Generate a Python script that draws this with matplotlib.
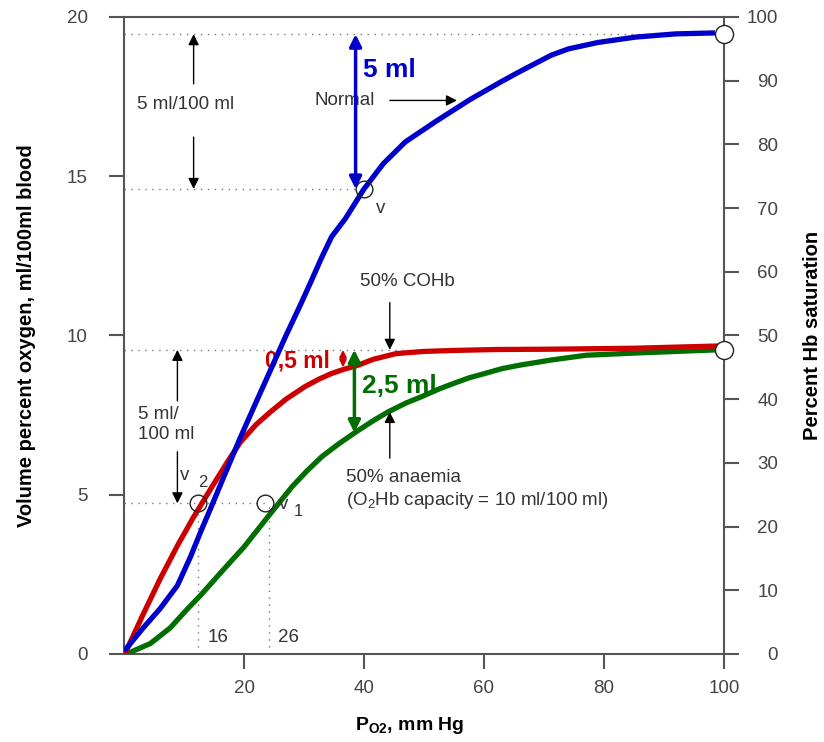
import matplotlib
matplotlib.use("Agg")
import matplotlib.pyplot as plt

plt.rcParams["font.family"] = ["Liberation Sans", "DejaVu Sans"]
plt.rcParams["mathtext.fontset"] = "custom"
plt.rcParams["mathtext.rm"] = "Liberation Sans"
plt.rcParams["mathtext.it"] = "Liberation Sans"
plt.rcParams["mathtext.bf"] = "Liberation Sans:bold"

# data (PO2 in mm Hg, O2 content in ml/100 ml)
normal_x = [0, 0.5, 3.2, 6, 8.9, 11.1, 12.8, 14.5, 16.6, 19.4, 22, 24.5, 27, 29.5, 31.3, 32.9,
            34.6, 36.9, 40, 43.2, 46.9, 52.2, 57.6, 62.7, 65.6, 71.2, 74.1, 79, 85.3, 92, 98.5]
normal_y = [0.1, 0.2, 0.82, 1.42, 2.15, 3.06, 3.85, 4.6, 5.55, 6.8, 7.9, 8.95, 10.0, 11.0, 11.75,
            12.43, 13.1, 13.67, 14.6, 15.39, 16.08, 16.75, 17.4, 17.95, 18.25, 18.8, 19.0, 19.2,
            19.37, 19.47, 19.5]

cohb_x = [0, 3.2, 6, 8.9, 11.6, 14.5, 17.3, 19.4, 22, 24.4, 27, 30.2, 32.5, 34.5, 36.5, 38.9,
          41.5, 45.3, 50, 54.9, 62, 71, 85, 99]
cohb_y = [-0.05, 1.25, 2.35, 3.4, 4.3, 5.2, 6.05, 6.65, 7.2, 7.6, 8.0, 8.4, 8.63, 8.8, 8.93,
          9.06, 9.25, 9.43, 9.5, 9.53, 9.56, 9.57, 9.6, 9.67]

anaemia_x = [0, 1, 4.4, 7.7, 10.6, 12.8, 16.1, 20, 24.2, 28, 30.5, 33, 35.8, 38.8, 41.5, 44,
             47, 49.6, 52.5, 55, 57.5, 60.2, 63, 66, 71.2, 77, 85.3, 92, 98.9]
anaemia_y = [0, 0.05, 0.33, 0.82, 1.42, 1.85, 2.55, 3.36, 4.36, 5.25, 5.75, 6.2, 6.6, 6.99, 7.32,
             7.6, 7.88, 8.08, 8.32, 8.5, 8.67, 8.81, 8.96, 9.07, 9.23, 9.38, 9.45, 9.5, 9.55]

x_ticks = [20, 40, 60, 80, 100]
y_ticks = [0, 5, 10, 15, 20]
sat_ticks = [0, 10, 20, 30, 40, 50, 60, 70, 80, 90, 100]

arterial_full = 19.46
venous_normal = 14.6
arterial_half = 9.55
venous_low = 4.73
v_normal_x = 40
v2_x = 12.4
v1_x = 23.5
drop16_x = 12.3
drop26_x = 24.2

BLUE = "#0000cc"
RED = "#cc0000"
GREEN = "#006e00"
AX = "#555555"
TXT = "#333333"
DOT = (0, (1, 4))

fig = plt.figure(figsize=(8.24, 7.42), dpi=100)
ax = fig.add_axes([0.1505, 0.1186, 0.7281, 0.8585])
ax.set_xlim(0, 100)
ax.set_ylim(0, 20)

# dotted guide lines
ax.plot([0, 100], [arterial_full, arterial_full], color="#777777", lw=1, ls=DOT, zorder=1)
ax.plot([0, v_normal_x], [venous_normal, venous_normal], color="#777777", lw=1, ls=DOT, zorder=1)
ax.plot([0, 100], [arterial_half, arterial_half], color="#777777", lw=1, ls=DOT, zorder=1)
ax.plot([0, v1_x], [venous_low, venous_low], color="#777777", lw=1, ls=DOT, zorder=1)
ax.plot([drop16_x, drop16_x], [0, venous_low], color="#777777", lw=1, ls=DOT, zorder=1)
ax.plot([drop26_x, drop26_x], [0, venous_low], color="#777777", lw=1, ls=DOT, zorder=1)

# curves
ax.plot(anaemia_x, anaemia_y, color=GREEN, lw=3.8, solid_capstyle="butt",
        solid_joinstyle="round", zorder=3)
ax.plot(cohb_x, cohb_y, color=RED, lw=3.8, solid_capstyle="butt",
        solid_joinstyle="round", zorder=3)
ax.plot(normal_x, normal_y, color=BLUE, lw=3.8, solid_capstyle="butt",
        solid_joinstyle="round", zorder=4)

# open circles
ax.plot([v_normal_x, v2_x, v1_x], [venous_normal, venous_low, venous_low], "o", ms=12,
        mfc="none", mec="#222222", mew=1, zorder=5)
ax.plot([100, 100], [arterial_full, arterial_half], "o", ms=13, mfc="white",
        mec="#222222", mew=1, clip_on=False, zorder=6)

fs = 13.5
black_arrow = dict(arrowstyle="-|>", color="black", lw=1, mutation_scale=16, shrinkA=0, shrinkB=0)

# top-left 5 ml/100 ml
ax.text(10.25, 17.26, "5 ml/100 ml", fontsize=fs, color=TXT, ha="center", va="center")
ax.annotate("", xy=(11.6, arterial_full), xytext=(11.6, 17.9), arrowprops=black_arrow)
ax.annotate("", xy=(11.6, venous_normal), xytext=(11.6, 16.23), arrowprops=black_arrow)

# lower-left 5 ml/100 ml
ax.text(2.35, 7.53, "5 ml/", fontsize=fs, color=TXT, ha="left", va="center")
ax.text(2.35, 6.89, "100 ml", fontsize=fs, color=TXT, ha="left", va="center")
ax.annotate("", xy=(8.9, arterial_half), xytext=(8.9, 7.95), arrowprops=black_arrow)
ax.annotate("", xy=(8.9, venous_low), xytext=(8.9, 6.35), arrowprops=black_arrow)

# Normal
ax.text(31.8, 17.38, "Normal", fontsize=fs, color=TXT, ha="left", va="center")
ax.annotate("", xy=(55.5, 17.38), xytext=(44.3, 17.38), arrowprops=black_arrow)

# 5 ml blue
ax.annotate("", xy=(38.6, arterial_full), xytext=(38.6, venous_normal),
            arrowprops=dict(arrowstyle="<|-|>", color=BLUE, lw=2.5, mutation_scale=18,
                            shrinkA=0, shrinkB=0), zorder=5)
ax.text(39.8, 18.34, "5 ml", fontsize=19, fontweight="bold", color=BLUE, ha="left", va="center")
ax.text(42, 14.0, "v", fontsize=fs, color=TXT, ha="left", va="center")

# 50% COHb
ax.text(47.2, 11.7, "50% COHb", fontsize=fs, color=TXT, ha="center", va="center")
ax.annotate("", xy=(44.3, arterial_half), xytext=(44.3, 11.03), arrowprops=black_arrow)

# 0,5 ml red
ax.text(23.5, 9.2, "0,5 ml", fontsize=16.5, fontweight="bold", color=RED, ha="left", va="center")
ax.annotate("", xy=(36.5, arterial_half), xytext=(36.5, 9.0),
            arrowprops=dict(arrowstyle="<|-|>", color=RED, lw=1.5, mutation_scale=10,
                            shrinkA=0, shrinkB=0), zorder=5)

# 2,5 ml green
ax.annotate("", xy=(38.4, arterial_half), xytext=(38.4, 6.95),
            arrowprops=dict(arrowstyle="<|-|>", color=GREEN, lw=2.5, mutation_scale=18,
                            shrinkA=0, shrinkB=0), zorder=5)
ax.text(39.6, 8.4, "2,5 ml", fontsize=19, fontweight="bold", color=GREEN, ha="left", va="center")

# 50% anaemia
ax.text(37.0, 5.54, "50% anaemia", fontsize=fs, color=TXT, ha="left", va="center")
ax.text(37.0, 4.82, "(O$_2$Hb capacity = 10 ml/100 ml)", fontsize=fs, color=TXT,
        ha="left", va="center")
ax.annotate("", xy=(44.3, 7.6), xytext=(44.3, 6.15), arrowprops=black_arrow)

# venous labels
ax.text(10.1, 5.6, "v", fontsize=fs, color=TXT, ha="center", va="center")
ax.text(13.1, 5.4, "2", fontsize=12, color=TXT, ha="center", va="center")
ax.text(26.6, 4.7, "v", fontsize=fs, color=TXT, ha="center", va="center")
ax.text(29.0, 4.48, "1", fontsize=12, color=TXT, ha="center", va="center")
ax.text(13.9, 0.52, "16", fontsize=fs, color=TXT, ha="left", va="center")
ax.text(25.6, 0.52, "26", fontsize=fs, color=TXT, ha="left", va="center")

# axes styling
for s in ax.spines.values():
    s.set_color(AX)
    s.set_linewidth(1.5)
ax.set_xticks(x_ticks)
ax.set_yticks(y_ticks)
ax.tick_params(axis="both", direction="out", length=11, width=1.5, color=AX,
               labelcolor="#444444", labelsize=fs)
ax.tick_params(axis="x", pad=8)
ax.tick_params(axis="y", pad=15)

ax.set_xlabel("P$_{\\mathbf{O2}}$, mm Hg", fontsize=14, fontweight="bold", color="black")
ax.xaxis.set_label_coords(0.477, -0.095)
ax.set_ylabel("Volume percent oxygen, ml/100ml blood", fontsize=14.5, fontweight="bold",
              color="black")
ax.yaxis.set_label_coords(-0.147, 0.5)

ax2 = ax.twinx()
ax2.set_ylim(0, 100)
ax2.set_yticks(sat_ticks)
ax2.tick_params(axis="y", direction="out", length=11, width=1.5, color=AX,
                labelcolor="#444444", labelsize=fs, pad=28)
for lab in ax2.get_yticklabels():
    lab.set_horizontalalignment("right")
for s in ax2.spines.values():
    s.set_visible(False)
ax2.set_ylabel("Percent Hb saturation", fontsize=14.5, fontweight="bold", color="black")
ax2.yaxis.set_label_coords(1.132, 0.5)

fig.savefig("out.png", dpi=100)
